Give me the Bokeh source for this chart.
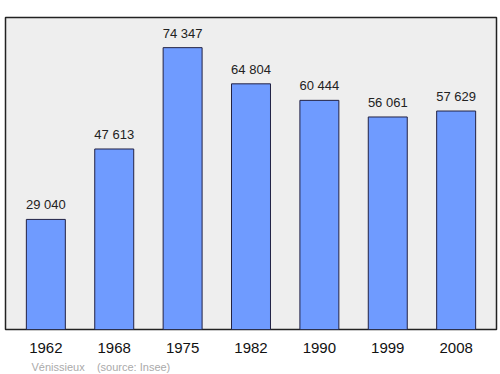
from bokeh.plotting import figure
from bokeh.models import ColumnDataSource, FixedTicker, Range1d, Label
from bokeh.embed import file_html
from bokeh.resources import INLINE
from bokeh.core.properties import value

years = ["1962", "1968", "1975", "1982", "1990", "1999", "2008"]
population = [29040, 47613, 74347, 64804, 60444, 56061, 57629]
labels = ["29 040", "47 613", "74 347", "64 804", "60 444", "56 061", "57 629"]

xs = list(range(len(years)))
src = ColumnDataSource(dict(x=xs, top=population, lab=labels))

p = figure(width=500, height=374, output_backend="svg", toolbar_location=None,
           x_range=Range1d(-0.59, 6.59), y_range=Range1d(0, 82300),
           min_border_left=5, min_border_right=4, min_border_top=17, min_border_bottom=45)
p.background_fill_color = "#eeeeee"
p.border_fill_color = "white"
p.outline_line_color = "#222222"
p.outline_line_width = 1.5
p.grid.visible = False
p.yaxis.visible = False

p.vbar(x="x", top="top", width=0.57, source=src, fill_color="#6f9bff",
       line_color="#222244", line_width=1)
p.text(x="x", y="top", text="lab", source=src, text_align="center",
       text_baseline="bottom", y_offset=-7, text_font_size="13px",
       text_font=value("Liberation Sans"), text_color="#222222")

ax = p.xaxis[0]
ax.ticker = FixedTicker(ticks=xs)
ax.major_label_overrides = {i: y for i, y in enumerate(years)}
ax.axis_line_color = None
ax.major_tick_line_color = None
ax.minor_tick_line_color = None
ax.major_label_text_font = "Liberation Sans"
ax.major_label_text_font_size = "15px"
ax.major_label_text_color = "#111111"
ax.major_label_standoff = 7

p.add_layout(Label(x=26, y=-5, x_units="screen", y_units="screen",
                   text="Vénissieux\u00a0\u00a0\u00a0\u00a0(source: Insee)",
                   text_font_size="11px", text_font="Liberation Sans",
                   text_color="#aaaaaa"), "below")

open("out.html", "w").write(file_html(p, INLINE))
